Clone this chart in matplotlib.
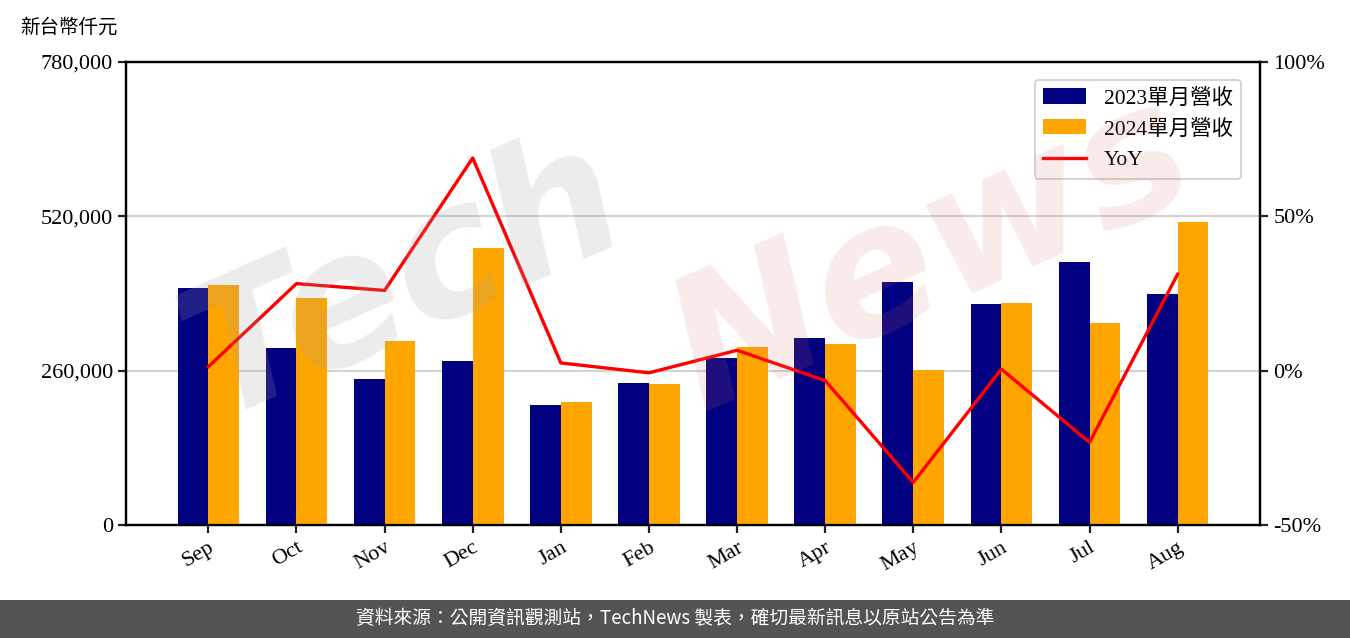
import numpy as np
import matplotlib.pyplot as plt
from matplotlib.ticker import FuncFormatter, FixedLocator
from matplotlib.patches import Rectangle

plt.rcParams["font.family"] = ["Liberation Serif", "Noto Sans CJK TC"]

MONTHS = ["Sep", "Oct", "Nov", "Dec", "Jan", "Feb", "Mar", "Apr", "May", "Jun", "Jul", "Aug"]
REV_2023 = [399300, 298200, 246000, 276300, 202200, 239200, 281300, 315000, 409400, 372300, 443100, 389200]
REV_2024 = [404300, 382400, 310000, 466600, 207200, 237500, 299900, 304900, 261100, 374000, 340300, 510400]
YOY = [1.3, 28.2, 26.0, 68.9, 2.5, -0.7, 6.6, -3.2, -36.2, 0.5, -23.2, 31.2]

LEFT_TICKS = [0, 260000, 520000, 780000]
RIGHT_TICKS = [-50, 0, 50, 100]

fig = plt.figure(figsize=(13.5, 6.38), dpi=100)
ax = fig.add_axes([126 / 1350, 1 - 525 / 638, 1134 / 1350, 463 / 638])
ax2 = ax.twinx()

x = np.arange(len(MONTHS))
w = 0.35
ax.bar(x - w / 2, REV_2023, w, color="navy", label="2023單月營收", zorder=3)
ax.bar(x + w / 2, REV_2024, w, color="orange", label="2024單月營收", zorder=3)
line, = ax2.plot(x, YOY, color="red", lw=2.4, label="YoY", zorder=4)

ax.set_ylim(0, 780000)
ax.yaxis.set_major_locator(FixedLocator(LEFT_TICKS))
ax.yaxis.set_major_formatter(FuncFormatter(lambda v, p: f"{int(v):,}"))
ax.grid(axis="y", color="#d3d3d3", lw=1.5, zorder=0)
ax.set_axisbelow(True)

ax2.set_ylim(-50, 100)
ax2.yaxis.set_major_locator(FixedLocator(RIGHT_TICKS))
ax2.yaxis.set_major_formatter(FuncFormatter(lambda v, p: f"{int(v)}%"))

ax.set_xticks(x)
ax.set_xticklabels(MONTHS, rotation=30, ha="right", rotation_mode="anchor")

for a in (ax, ax2):
    for s in a.spines.values():
        s.set_linewidth(1.6)
    a.tick_params(labelsize=16, width=1.6, length=6, color="#222222")

# faint watermark
fig.text(0.30, 0.56, "Tech", fontsize=130, color="#a0a0a0", alpha=0.2, weight="bold",
         rotation=24, ha="center", va="center", style="italic", family="DejaVu Sans", zorder=0)
fig.text(0.69, 0.60, "News", fontsize=130, color="#e07070", alpha=0.14, weight="bold",
         rotation=24, ha="center", va="center", style="italic", family="DejaVu Sans", zorder=0)

handles1, labels1 = ax.get_legend_handles_labels()
leg = ax2.legend(handles1 + [line], labels1 + ["YoY"], loc="upper right",
                 fontsize=15.5, framealpha=1, edgecolor="#cccccc",
                 bbox_to_anchor=(0.993, 0.985))
leg.get_frame().set_linewidth(1.2)

fig.text(20 / 1350, 1 - 27 / 638, "新台幣仟元", fontsize=14,
         family=["Noto Sans CJK TC"], ha="left", va="center")

fig.patches.append(Rectangle((0, 0), 1, 38 / 638, transform=fig.transFigure,
                             facecolor="#545454", edgecolor="none", zorder=5))
fig.text(0.5, 19 / 638, "資料來源：公開資訊觀測站，TechNews 製表，確切最新訊息以原站公告為準",
         color="white", fontsize=13.5, family=["Noto Sans CJK TC"],
         ha="center", va="center", zorder=6)

fig.savefig("out.png", dpi=100)
